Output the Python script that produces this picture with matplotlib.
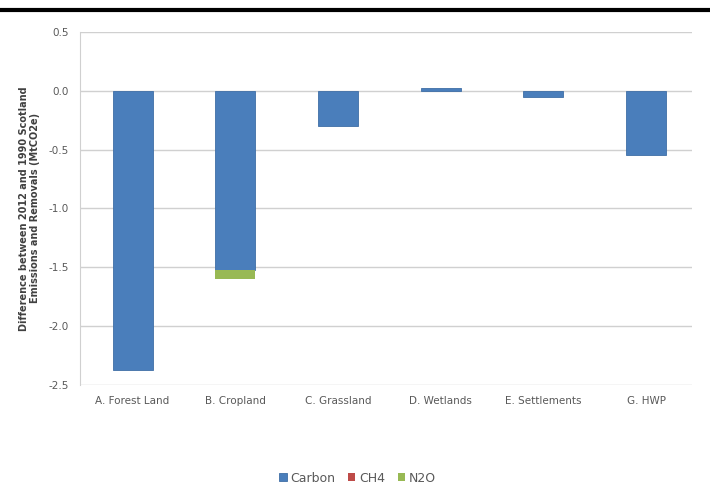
import matplotlib.pyplot as plt
import numpy as np

categories = ['A. Forest Land', 'B. Cropland', 'C. Grassland', 'D. Wetlands', 'E. Settlements', 'G. HWP']
carbon = [-2.37, -1.52, -0.30, 0.02, -0.05, -0.55]
ch4 = [0.0, 0.0, 0.0, 0.0, 0.0, 0.0]
n2o = [0.0, -0.08, 0.0, 0.0, 0.0, 0.0]
yticks = [0.5, 0.0, -0.5, -1.0, -1.5, -2.0, -2.5]

fig = plt.figure(figsize=(7.1, 4.91), dpi=100)
ax = fig.add_axes([0.113, 0.216, 0.862, 0.719])

x = np.arange(len(categories))
w = 0.39
carbon = np.array(carbon)
ch4 = np.array(ch4)
n2o = np.array(n2o)

ax.bar(x, carbon, w, color='#4a7ebb', edgecolor='#3f6ea6', linewidth=0.6, label='Carbon', zorder=3)
ax.bar(x, ch4, w, bottom=carbon, color='#be4b48', label='CH4', zorder=3)
ax.bar(x, n2o, w, bottom=carbon + ch4, color='#98b954', label='N2O', zorder=3)

ax.set_xlim(-0.51, 5.45)
ax.set_ylim(-2.5, 0.5)
ax.set_yticks(yticks)
ax.set_yticklabels([f'{v:.1f}' for v in yticks])
ax.set_xticks(x)
ax.set_xticklabels(categories)
ax.yaxis.grid(True, color='#d0d0d0', linewidth=1.0, zorder=0)
ax.tick_params(axis='both', length=0, labelsize=7.5, colors='#595959', pad=8)

for s in ['top', 'right', 'bottom']:
    ax.spines[s].set_visible(False)
ax.spines['left'].set_color('#d0d0d0')

ax.set_ylabel('Difference between 2012 and 1990 Scotland\nEmissions and Removals (MtCO2e)',
              fontsize=7, color='#404040', fontweight='bold', labelpad=6)

ax.legend(loc='center', bbox_to_anchor=(0.453, -0.264), ncol=3, frameon=False,
          fontsize=9, handlelength=0.6, handleheight=0.6, handletextpad=0.3,
          columnspacing=1.0, labelcolor='#595959')

fig.add_artist(plt.Line2D([0, 1], [0.98, 0.98], color='black', linewidth=3, transform=fig.transFigure))

fig.savefig('out.png', dpi=100)
